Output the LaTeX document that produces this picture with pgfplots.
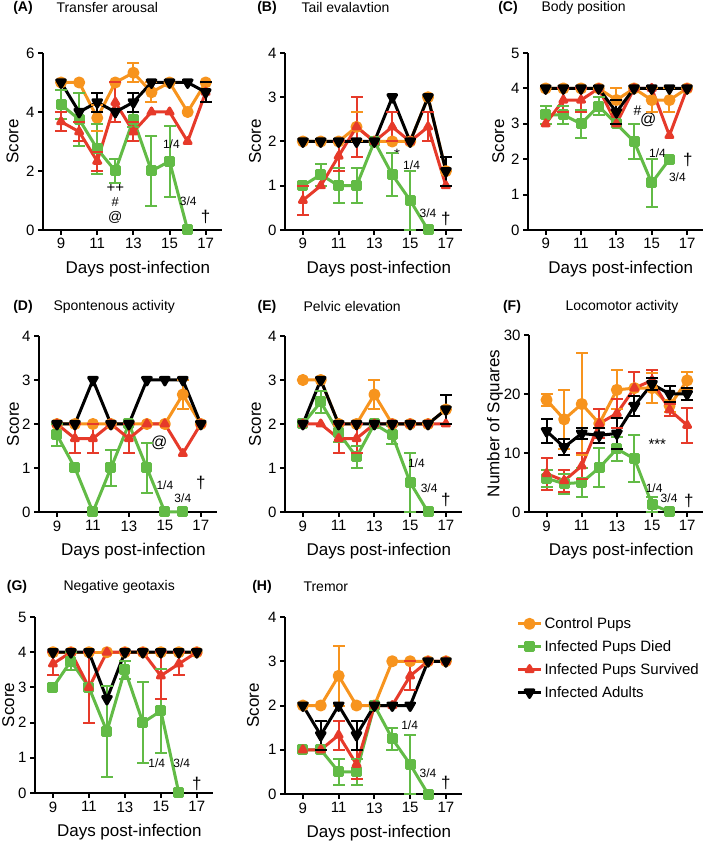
\documentclass[border=0pt]{standalone}
\usepackage{fontspec}
\setmainfont{Liberation Sans}
\usepackage{pgfplots}
\pgfplotsset{compat=1.18}
\definecolor{corange}{RGB}{247,148,30}
\definecolor{cgreen}{RGB}{98,187,70}
\definecolor{cred}{RGB}{230,58,42}
\tikzset{
 ann/.style={font=\fontsize{12}{12}\selectfont},
 dag/.style={font=\fontsize{17}{17}\selectfont},
}
\pgfplotsset{
 panel/.style={scale only axis, width=177pt, height=177pt, xmin=8, xmax=17.9, ymin=0,
   axis x line=bottom, axis y line=left, axis line style={line width=2.5pt,-},
   xtick={9,11,13,15,17}, tick align=outside, major tick length=5pt,
   tick style={line width=2pt,black},
   clip=false, anchor=south west, unbounded coords=jump,
   xlabel={Days post-infection}, ylabel={Score},
   tick label style={font=\fontsize{15}{15}\selectfont},
   label style={font=\fontsize{17}{17}\selectfont},
   xlabel style={at={(axis description cs:0.53,-0.22)}, anchor=center},
   ylabel style={at={(axis description cs:#1,0.5)}, anchor=center},
   /pgf/number format/assume math mode=true,
   legend image code/.code={\draw[mark repeat=2, mark phase=2, ##1] plot coordinates {(0pt,0pt) (11.5pt,0pt) (23pt,0pt)};},
 },
 ctrl/.style={color=corange, line width=3pt, line join=round, mark=*, mark size=4.5pt, mark options={solid}},
 died/.style={color=cgreen, line width=3pt, line join=round, mark=square*, mark size=4pt, mark options={solid}},
 surv/.style={color=cred, line width=3pt, line join=round, mark=triangle*, mark size=4pt, mark options={solid}},
 adult/.style={color=black, line width=3pt, line join=round, mark=triangle*, mark size=5pt, mark options={solid, rotate=180}},
 eb/.style={forget plot, color=#1, line width=2pt, mark=-, mark size=6pt, mark options={solid, line width=2pt}},
}
\begin{document}
\begin{tikzpicture}
\path[use as bounding box] (0,0) rectangle (709pt,848pt);

% ---------- (A) ----------
\begin{axis}[panel=-0.17, at={(43pt,618pt)}, ymax=6, ytick={0,2,4,6}, width=179pt]
\addplot[eb=corange] coordinates {(11,3.35)(11,4.25)(11,nan) (13,5.0)(13,5.66)(13,nan) (14,4.34)(14,5.0)};
\addplot[ctrl] coordinates {(9,5)(10,5)(11,3.8)(12,5)(13,5.33)(14,4.67)(15,5)(16,4)(17,5)};
\addplot[eb=cgreen] coordinates {(9,3.75)(9,4.75)(9,nan) (10,2.85)(10,4.65)(10,nan) (11,1.9)(11,3.6)(11,nan) (12,1.6)(12,2.4)(12,nan) (13,3.5)(13,4.0)(13,nan) (14,0.8)(14,3.2)(14,nan) (15,1.13)(15,3.53)};
\addplot[died] coordinates {(9,4.25)(10,3.75)(11,2.75)(12,2)(13,3.75)(14,2)(15,2.33)(16,0)};
\addplot[eb=cred] coordinates {(9,3.34)(9,4.0)(9,nan) (10,3.0)(10,3.66)(10,nan) (11,2.0)(11,2.66)(11,nan) (12,3.66)(12,5.0)(12,nan) (13,3.0)(13,3.66)};
\addplot[surv] coordinates {(9,3.67)(10,3.33)(11,2.33)(12,4.33)(13,3.33)(14,4)(15,4)(16,3)(17,4.67)};
\addplot[eb=black] coordinates {(11,4.0)(11,4.66)(11,nan) (13,4.0)(13,4.66)(13,nan) (17,4.34)(17,5.0)};
\addplot[adult] coordinates {(9,5)(10,4)(11,4.33)(12,4)(13,4.33)(14,5)(15,5)(16,5)(17,4.67)};
\node[inner sep=0pt, font=\fontsize{15}{15}\selectfont] at (axis cs:12,1.42) {++};
\node[inner sep=0pt, font=\fontsize{13}{13}\selectfont] at (axis cs:12,0.96) {\#};
\node[inner sep=0pt, font=\fontsize{14}{14}\selectfont] at (axis cs:12,0.42) {@};
\node[ann] at (axis cs:15.1,2.92) {1/4};
\node[ann] at (axis cs:16.03,0.96) {3/4};
\node[dag] at (axis cs:17,0.45) {†};
\end{axis}

% ---------- (B) ----------
\begin{axis}[panel=-0.17, at={(285pt,618pt)}, ymax=4, ytick={0,1,2,3,4}]
\addplot[eb=corange] coordinates {(12,2.0)(12,2.66)};
\addplot[ctrl] coordinates {(9,2)(10,2)(11,2)(12,2.33)(13,2)(14,2)(15,2)(16,3)(17,1.33)};
\addplot[eb=cgreen] coordinates {(10,1.0)(10,1.5)(10,nan) (11,0.6)(11,1.4)(11,nan) (12,0.6)(12,1.4)(12,nan) (14,0.77)(14,1.73)(14,nan) (15,0)(15,1.34)};
\addplot[died] coordinates {(9,1)(10,1.25)(11,1)(12,1)(13,2)(14,1.25)(15,0.67)(16,0)};
\addplot[eb=cred] coordinates {(9,0.34)(9,1.0)(9,nan) (11,1.34)(11,2.0)(11,nan) (12,1.66)(12,3.0)(12,nan) (14,2.0)(14,2.66)(14,nan) (16,2.0)(16,2.66)};
\addplot[surv] coordinates {(9,0.67)(10,1)(11,1.67)(12,2.33)(13,2)(14,2.33)(15,2)(16,2.33)(17,1)};
\addplot[eb=black] coordinates {(17,1.0)(17,1.66)};
\addplot[adult] coordinates {(9,2)(10,2)(11,2)(12,2)(13,2)(14,3)(15,2)(16,3)(17,1.33)};
\node[font=\fontsize{15}{15}\selectfont] at (axis cs:14.26,1.7) {*};
\node[ann] at (axis cs:15.08,1.46) {1/4};
\node[ann] at (axis cs:16.0,0.38) {3/4};
\node[dag] at (axis cs:17,0.26) {†};
\end{axis}

% ---------- (C) ----------
\begin{axis}[panel=-0.17, at={(528pt,618pt)}, ymax=5, ytick={0,1,2,3,4,5}, width=175pt]
\addplot[eb=corange] coordinates {(13,3.34)(13,4.0)(13,nan) (15,3.34)(15,4.0)(15,nan) (16,3.34)(16,4.0)};
\addplot[ctrl] coordinates {(9,4)(10,4)(11,4)(12,4)(13,3.67)(14,4)(15,3.67)(16,3.67)(17,4)};
\addplot[eb=cgreen] coordinates {(9,3.0)(9,3.5)(9,nan) (10,3.0)(10,3.5)(10,nan) (11,2.6)(11,3.4)(11,nan) (12,3.25)(12,3.75)(12,nan) (14,2.0)(14,3.0)(14,nan) (15,0.66)(15,2.0)};
\addplot[died] coordinates {(9,3.25)(10,3.25)(11,3)(12,3.5)(13,3)(14,2.5)(15,1.33)(16,2)};
\addplot[eb=cred] coordinates {(10,3.34)(10,4.0)(10,nan) (11,3.34)(11,4.0)};
\addplot[surv] coordinates {(9,3)(10,3.67)(11,3.67)(12,4)(13,3)(14,4)(15,4)(16,2.67)(17,4)};
\addplot[eb=black] coordinates {(13,3.0)(13,3.66)};
\addplot[adult] coordinates {(9,4)(10,4)(11,4)(12,4)(13,3.33)(14,4)(15,4)(16,4)(17,4)};
\node[font=\fontsize{14}{14}\selectfont] at (axis cs:14.2,3.38) {\#};
\node[font=\fontsize{16}{16}\selectfont] at (axis cs:14.8,3.12) {@};
\node[ann] at (axis cs:15.33,2.16) {1/4};
\node[ann] at (axis cs:16.45,1.5) {3/4};
\node[dag] at (axis cs:17.05,1.99) {†};
\end{axis}

% ---------- (D) ----------
\begin{axis}[panel=-0.146, at={(39pt,336pt)}, ymax=4, ytick={0,1,2,3,4}, width=178pt, height=176pt]
\addplot[eb=corange] coordinates {(16,2.34)(16,3.0)};
\addplot[ctrl] coordinates {(9,2)(10,2)(11,2)(12,2)(13,2)(14,2)(15,2)(16,2.67)(17,2)};
\addplot[eb=cgreen] coordinates {(9,1.5)(9,2.0)(9,nan) (12,0.6)(12,1.4)(12,nan) (14,0.43)(14,1.57)};
\addplot[died] coordinates {(9,1.75)(10,1)(11,0)(12,1)(13,2)(14,1)(15,0)(16,0)};
\addplot[eb=cred] coordinates {(10,1.34)(10,2.0)(10,nan) (11,1.34)(11,2.0)(11,nan) (13,1.34)(13,2.0)};
\addplot[surv] coordinates {(9,2)(10,1.67)(11,1.67)(12,2)(13,1.67)(14,2)(15,2)(16,1.33)(17,2)};
\addplot[adult] coordinates {(9,2)(10,2)(11,3)(12,2)(13,2)(14,3)(15,3)(16,3)(17,2)};
\node[font=\fontsize{16}{16}\selectfont] at (axis cs:14.69,1.57) {@};
\node[ann] at (axis cs:15.0,0.62) {1/4};
\node[ann] at (axis cs:16.0,0.32) {3/4};
\node[dag] at (axis cs:17,0.66) {†};
\end{axis}

% ---------- (E) ----------
\begin{axis}[panel=-0.17, at={(285pt,336pt)}, ymax=4, ytick={0,1,2,3,4}, height=176pt]
\addplot[eb=corange] coordinates {(13,2.34)(13,3.0)};
\addplot[ctrl] coordinates {(9,3)(10,3)(11,2)(12,2)(13,2.67)(14,2)(15,2)(16,2)(17,2.33)};
\addplot[eb=cgreen] coordinates {(10,2.25)(10,2.75)(10,nan) (11,1.6)(11,2.0)(11,nan) (12,1.0)(12,1.5)(12,nan) (14,1.55)(14,1.95)(14,nan) (15,0)(15,1.34)};
\addplot[died] coordinates {(9,2)(10,2.5)(11,1.8)(12,1.25)(13,2)(14,1.75)(15,0.67)(16,0)};
\addplot[eb=cred] coordinates {(11,1.34)(11,2.0)(11,nan) (12,1.34)(12,2.0)};
\addplot[surv] coordinates {(9,2)(10,2)(11,1.67)(12,1.67)(13,2)(14,2)(15,2)(16,2)(17,2)};
\addplot[eb=black] coordinates {(17,2.0)(17,2.66)};
\addplot[adult] coordinates {(9,2)(10,3)(11,2)(12,2)(13,2)(14,2)(15,2)(16,2)(17,2.33)};
\node[ann] at (axis cs:15.35,1.11) {1/4};
\node[ann] at (axis cs:16.06,0.54) {3/4};
\node[dag] at (axis cs:17,0.28) {†};
\end{axis}

% ---------- (F) ----------
\begin{axis}[panel=-0.195, at={(529pt,336pt)}, ymax=30, ytick={0,10,20,30}, width=174pt, ylabel={Number of Squares}]
\addplot[eb=corange] coordinates {(9,18)(9,20)(9,nan) (10,10.7)(10,20.7)(10,nan) (11,9.6)(11,27)(11,nan) (13,17.4)(13,24)(13,nan) (14,18.3)(14,23.7)(14,nan) (15,18.5)(15,23.5)(15,nan) (16,17)(16,19)(16,nan) (17,20.9)(17,23.7)};
\addplot[ctrl] coordinates {(9,19)(10,15.7)(11,18.3)(12,15)(13,20.7)(14,21)(15,21)(16,18)(17,22.3)};
\addplot[eb=cgreen] coordinates {(9,4.3)(9,7.1)(9,nan) (10,3.1)(10,6.5)(10,nan) (11,2.5)(11,7.5)(11,nan) (12,4.2)(12,10.8)(12,nan) (13,8.7)(13,12.7)(13,nan) (14,5)(14,13)(14,nan) (15,0)(15,2.6)};
\addplot[died] coordinates {(9,5.7)(10,4.8)(11,5)(12,7.5)(13,10.7)(14,9)(15,1.3)(16,0)};
\addplot[eb=cred] coordinates {(9,3.8)(9,9.2)(9,nan) (10,3.4)(10,7.2)(10,nan) (11,5.6)(11,10)(11,nan) (12,12.5)(12,17.5)(12,nan) (13,14.2)(13,19.2)(13,nan) (14,18.3)(14,23.7)(14,nan) (15,20.6)(15,24)(15,nan) (16,16.3)(16,18.3)(16,nan) (17,11.7)(17,17.7)};
\addplot[surv] coordinates {(9,6.5)(10,5.3)(11,7.8)(12,15)(13,16.7)(14,21)(15,22.3)(16,17.3)(17,14.7)};
\addplot[eb=black] coordinates {(9,11.7)(9,15.7)(9,nan) (10,9.7)(10,12.3)(10,nan) (11,12.3)(11,14.3)(11,nan) (12,11.7)(12,14.3)(12,nan) (13,10.6)(13,16)(13,nan) (14,16.3)(14,19.7)(14,nan) (15,20.7)(15,22.7)(15,nan) (16,18.7)(16,21.3)(16,nan) (17,19)(17,21)};
\addplot[adult] coordinates {(9,13.7)(10,11)(11,13.3)(12,13)(13,13.3)(14,18)(15,21.7)(16,20)(17,20)};
\node[font=\fontsize{15}{15}\selectfont] at (axis cs:15.3,11.4) {***};
\node[ann] at (axis cs:15.12,4.06) {1/4};
\node[ann] at (axis cs:15.97,2.37) {3/4};
\node[dag] at (axis cs:17.1,1.8) {†};
\end{axis}

% ---------- (G) ----------
\begin{axis}[panel=-0.15, at={(35pt,55pt)}, ymax=5, ytick={0,1,2,3,4,5}, width=178pt, height=176pt]
\addplot[ctrl] coordinates {(9,4)(10,4)(11,4)(12,4)(13,4)(14,4)(15,4)(16,4)(17,4)};
\addplot[eb=cgreen] coordinates {(10,3.5)(10,4.0)(10,nan) (12,0.45)(12,3.05)(12,nan) (13,3.25)(13,3.75)(13,nan) (14,0.85)(14,3.15)(14,nan) (15,1.13)(15,3.53)};
\addplot[died] coordinates {(9,3)(10,3.75)(11,3)(12,1.75)(13,3.5)(14,2)(15,2.33)(16,0)};
\addplot[eb=cred] coordinates {(9,3.34)(9,4.0)(9,nan) (11,2.0)(11,4.0)(11,nan) (15,2.66)(15,4.0)(15,nan) (16,3.34)(16,4.0)};
\addplot[surv] coordinates {(9,3.67)(10,4)(11,3)(12,4)(13,4)(14,4)(15,3.33)(16,3.67)(17,4)};
\addplot[adult] coordinates {(9,4)(10,4)(11,4)(12,2.67)(13,4)(14,4)(15,4)(16,4)(17,4)};
\node[ann] at (axis cs:14.77,0.85) {1/4};
\node[ann] at (axis cs:16.16,0.85) {3/4};
\node[dag] at (axis cs:17,0.26) {†};
\end{axis}

% ---------- (H) ----------
\begin{axis}[panel=-0.18, at={(285pt,54pt)}, ymax=4, ytick={0,1,2,3,4},
  legend style={at={(axis description cs:1.29,1.02)}, anchor=north west, draw=none, fill=none,
    font=\fontsize{15}{15}\selectfont, row sep=6.5pt, cells={anchor=west}}]
\addplot[eb=corange] coordinates {(11,2.0)(11,3.34)};
\addplot[ctrl] coordinates {(9,2)(10,2)(11,2.67)(12,2)(13,2)(14,3)(15,3)(16,3)(17,3)};
\addplot[eb=cgreen] coordinates {(11,0.2)(11,0.8)(11,nan) (12,0.2)(12,0.8)(12,nan) (14,1.0)(14,1.5)(14,nan) (15,0)(15,1.34)};
\addplot[died] coordinates {(9,1)(10,1)(11,0.5)(12,0.5)(13,2)(14,1.25)(15,0.67)(16,0)};
\addplot[eb=cred] coordinates {(11,1.0)(11,1.66)(11,nan) (12,0.34)(12,1.0)(12,nan) (15,2.34)(15,3.0)};
\addplot[surv] coordinates {(9,1)(10,1)(11,1.33)(12,0.67)(13,2)(14,2)(15,2.67)(16,3)(17,3)};
\addplot[eb=black] coordinates {(10,1.0)(10,1.66)(10,nan) (12,1.0)(12,1.66)};
\addplot[adult] coordinates {(9,2)(10,1.33)(11,2)(12,1.33)(13,2)(14,2)(15,2)(16,3)(17,3)};
\legend{Control Pups, Infected Pups Died, Infected Pups Survived, Infected Adults}
\node[ann] at (axis cs:14.97,1.56) {1/4};
\node[ann] at (axis cs:16.0,0.47) {3/4};
\node[dag] at (axis cs:17,0.26) {†};
\end{axis}

% ---------- titles ----------
\begin{scope}[every node/.style={font=\fontsize{14}{14}\selectfont}]
\node at (23pt,840pt) {\bfseries (A)};
\node[anchor=west] at (53pt,840pt) {Transfer arousal};
\node at (267pt,840pt) {\bfseries (B)};
\node[anchor=west] at (298pt,840pt) {Tail evalavtion};
\node at (508pt,840pt) {\bfseries (C)};
\node[anchor=west] at (538pt,840pt) {Body position};
\node at (23pt,541pt) {\bfseries (D)};
\node[anchor=west] at (50pt,541pt) {Spontenous activity};
\node at (267pt,541pt) {\bfseries (E)};
\node[anchor=west] at (300pt,541pt) {Pelvic elevation};
\node at (512pt,541pt) {\bfseries (F)};
\node[anchor=west] at (562pt,541pt) {Locomotor activity};
\node at (17pt,261pt) {\bfseries (G)};
\node[anchor=west] at (60pt,261pt) {Negative geotaxis};
\node at (262pt,261pt) {\bfseries (H)};
\node[anchor=west] at (300pt,261pt) {Tremor};
\end{scope}
\end{tikzpicture}
\end{document}
